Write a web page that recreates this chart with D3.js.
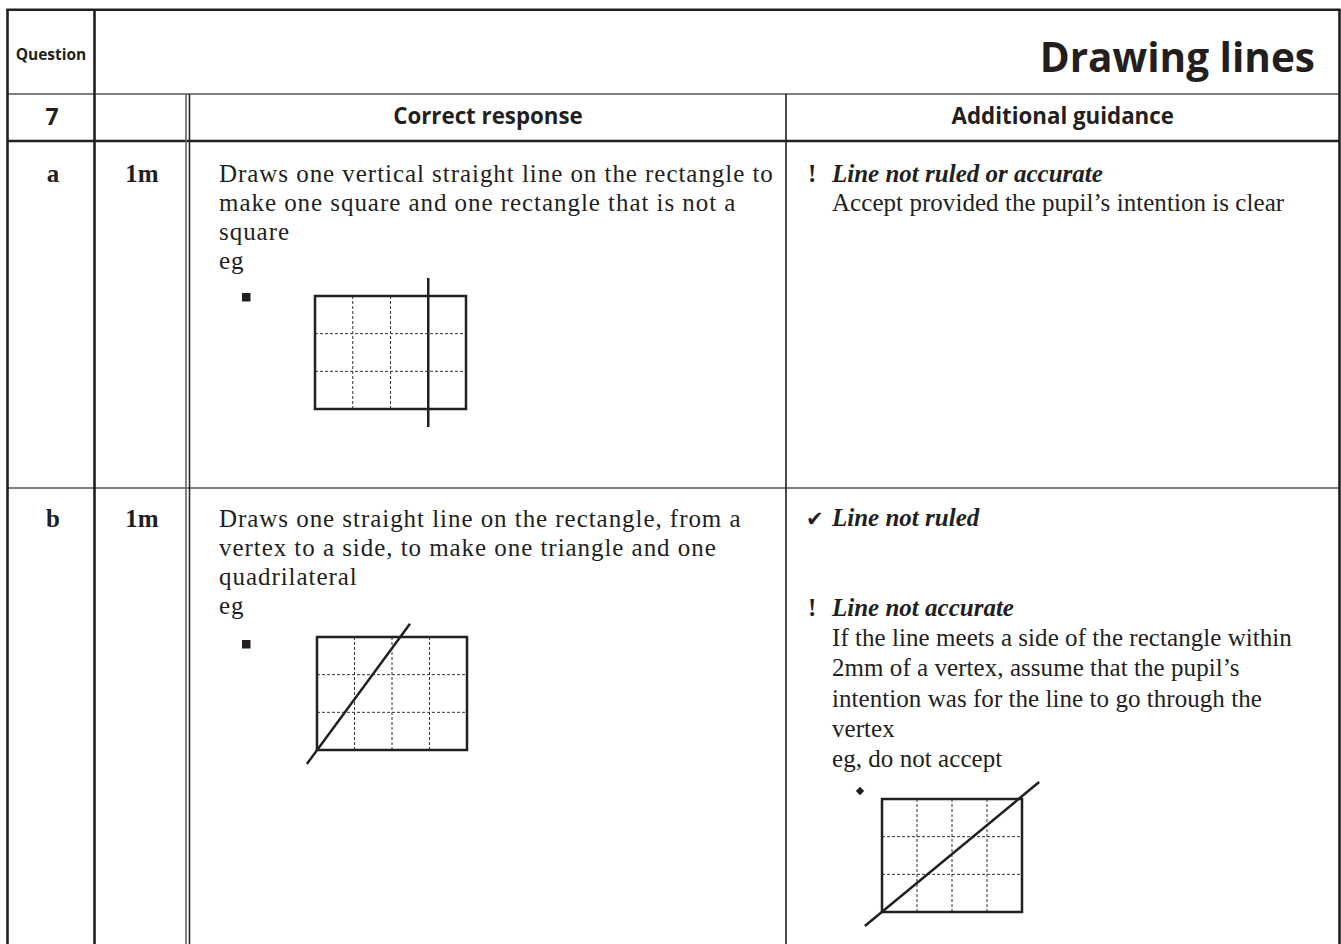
<!DOCTYPE html>
<meta charset="utf-8">
<style>
    body { margin: 0; background: #fff; }
    svg { display: block; }
    .sans { font-family: "Open Sans", "Noto Sans", sans-serif; font-weight: 700; fill: #231f20; }
    .serif { font-family: "Liberation Serif", "Times New Roman", serif; fill: #231f20; }
    .grid { stroke: #333; stroke-width: 1; stroke-dasharray: 3,2; }
    .frame { fill: none; stroke: #231f20; stroke-width: 2.5; }
    .cut { stroke: #231f20; stroke-width: 2.5; }
</style>
<svg width="1341" height="944"></svg>
<script src="https://cdn.jsdelivr.net/npm/d3@7"></script>
<script>

    // ---- data ----
    var title = "Drawing lines";
    var questionNo = "7";
    var headers = ["Correct response", "Additional guidance"];
    var parts = ["a", "b"];
    var marks = ["1m", "1m"];

    var responseLines = [
        ["Draws one vertical straight line on the rectangle to",
         "make one square and one rectangle that is not a",
         "square",
         "eg"],
        ["Draws one straight line on the rectangle, from a",
         "vertex to a side, to make one triangle and one",
         "quadrilateral",
         "eg"]
    ];

    var guidance = [
        [{ sym: "!", head: "Line not ruled or accurate",
           body: ["Accept provided the pupil\u2019s intention is clear"] }],
        [{ sym: "\u2714", head: "Line not ruled", body: [] },
         { sym: "!", head: "Line not accurate",
           body: ["If the line meets a side of the rectangle within",
                  "2mm of a vertex, assume that the pupil\u2019s",
                  "intention was for the line to go through the",
                  "vertex",
                  "eg, do not accept"] }]
    ];

    // figures: 4 x 3 grid, cut line given in grid units
    var gridCols = 4, gridRows = 3;
    var cutA = [[3, -0.48], [3, 3.48]];
    var cutB = [[-0.27, 3.37], [2.48, -0.35]];
    var cutC = [[-0.49, 3.37], [4.49, -0.45]];

    // ---- layout ----
    var svg = d3.select("svg");
    var colX = [7.5, 94.5, 186, 786, 1339.5];
    var rowY = [9.7, 94, 141, 488, 960];

    var lines = svg.append("g");
    function rule(x1, y1, x2, y2, w, c) {
        lines.append("line")
            .attr("x1", x1).attr("y1", y1).attr("x2", x2).attr("y2", y2)
            .attr("stroke", c).attr("stroke-width", w);
    }

    // horizontal rules
    rule(colX[0] - 1.2, rowY[0], colX[4] + 1.2, rowY[0], 2.5, "#231f20");
    rule(colX[0], rowY[1], colX[4], rowY[1], 1.5, "#555");
    rule(colX[0], rowY[2], colX[4], rowY[2], 2.4, "#231f20");
    rule(colX[0], rowY[3], colX[4], rowY[3], 1.5, "#555");
    // vertical rules
    rule(colX[0], rowY[0], colX[0], rowY[4], 2.6, "#231f20");
    rule(colX[1], rowY[0], colX[1], rowY[4], 2.6, "#231f20");
    rule(colX[2], rowY[1], colX[2], rowY[4], 1.6, "#666");
    rule(colX[2] + 3.5, rowY[1], colX[2] + 3.5, rowY[4], 1.5, "#231f20");
    rule(colX[3], rowY[1], colX[3], rowY[4], 1.6, "#231f20");
    rule(colX[4], rowY[0], colX[4], rowY[4], 2.6, "#231f20");

    // header texts
    svg.append("text").attr("class", "sans")
        .attr("x", (colX[0] + colX[1]) / 2).attr("y", 60)
        .attr("text-anchor", "middle").style("font-size", "15.5px")
        .text("Question");
    svg.append("text").attr("class", "sans")
        .attr("x", 1315).attr("y", 72)
        .attr("text-anchor", "end").style("font-size", "40.5px")
        .text(title);
    svg.append("text").attr("class", "sans")
        .attr("x", (colX[0] + colX[1]) / 2 + 1).attr("y", 125)
        .attr("text-anchor", "middle").style("font-size", "23px")
        .text(questionNo);
    svg.selectAll(".hdr").data(headers).enter().append("text")
        .attr("class", "sans hdr")
        .attr("x", function (d, i) { return i === 0 ? (colX[2] + colX[3]) / 2 + 2 : (colX[3] + colX[4]) / 2; })
        .attr("y", 124)
        .attr("text-anchor", "middle").style("font-size", "22.3px")
        .text(function (d) { return d; });

    // part rows
    var rowTop = [182, 527];
    var fs = 25;

    parts.forEach(function (p, i) {
        svg.append("text").attr("class", "serif")
            .attr("x", 53).attr("y", rowTop[i])
            .attr("text-anchor", "middle").style("font-size", fs + "px").style("font-weight", 700)
            .text(p);
        svg.append("text").attr("class", "serif")
            .attr("x", 142).attr("y", rowTop[i])
            .attr("text-anchor", "middle").style("font-size", fs + "px").style("font-weight", 700)
            .text(marks[i]);

        svg.append("g").selectAll("text").data(responseLines[i]).enter().append("text")
            .attr("class", "serif")
            .attr("x", 219)
            .attr("y", function (d, j) { return rowTop[i] + j * 28.9; })
            .style("font-size", fs + "px").style("letter-spacing", "0.95px")
            .text(function (d) { return d; });
    });

    // guidance
    var guideStart = [[182], [526, 616]];
    guidance.forEach(function (items, i) {
        items.forEach(function (item, k) {
            var y0 = guideStart[i][k];
            var isCheck = item.sym === "\u2714";
            svg.append("text")
                .attr("class", isCheck ? "sans" : "serif")
                .attr("x", isCheck ? 806 : 808).attr("y", y0)
                .style("font-family", isCheck ? "DejaVu Sans" : null)
                .style("font-size", isCheck ? "21px" : fs + "px")
                .style("font-weight", isCheck ? 400 : 700)
                .text(item.sym);
            svg.append("text").attr("class", "serif")
                .attr("x", 832).attr("y", y0)
                .style("font-size", fs + "px").style("font-style", "italic").style("font-weight", 700)
                .text(item.head);
            svg.append("g").selectAll("text").data(item.body).enter().append("text")
                .attr("class", "serif")
                .attr("x", 832)
                .attr("y", function (d, j) { return y0 + (j + 1) * (i === 0 ? 28.5 : 30.2); })
                .style("font-size", fs + "px").style("letter-spacing", "0.05px")
                .text(function (d) { return d; });
        });
    });

    // ---- figures ----
    function figure(box, cut) {
        var x = d3.scaleLinear().domain([0, gridCols]).range([box[0], box[1]]);
        var y = d3.scaleLinear().domain([0, gridRows]).range([box[2], box[3]]);
        var g = svg.append("g");
        g.selectAll(".gx").data(d3.range(1, gridCols)).enter().append("line")
            .attr("class", "grid")
            .attr("x1", x).attr("x2", x)
            .attr("y1", y(0)).attr("y2", y(gridRows));
        g.selectAll(".gy").data(d3.range(1, gridRows)).enter().append("line")
            .attr("class", "grid")
            .attr("y1", y).attr("y2", y)
            .attr("x1", x(0)).attr("x2", x(gridCols));
        g.append("rect").attr("class", "frame")
            .attr("x", x(0)).attr("y", y(0))
            .attr("width", x(gridCols) - x(0)).attr("height", y(gridRows) - y(0));
        g.append("path").attr("class", "cut")
            .attr("d", d3.line().x(function (d) { return x(d[0]); }).y(function (d) { return y(d[1]); })(cut));
    }

    figure([315, 466, 296, 409], cutA);
    figure([317, 467, 637, 750], cutB);
    figure([882, 1022, 799, 912], cutC);

    // bullets
    svg.append("rect").attr("x", 242).attr("y", 293).attr("width", 8.5).attr("height", 8.5).attr("fill", "#231f20");
    svg.append("rect").attr("x", 242).attr("y", 640).attr("width", 8.5).attr("height", 8.5).attr("fill", "#231f20");
    svg.append("path")
        .attr("transform", "translate(860,791)")
        .attr("d", d3.symbol(d3.symbolDiamond2, 45)())
        .attr("fill", "#231f20");

</script>
